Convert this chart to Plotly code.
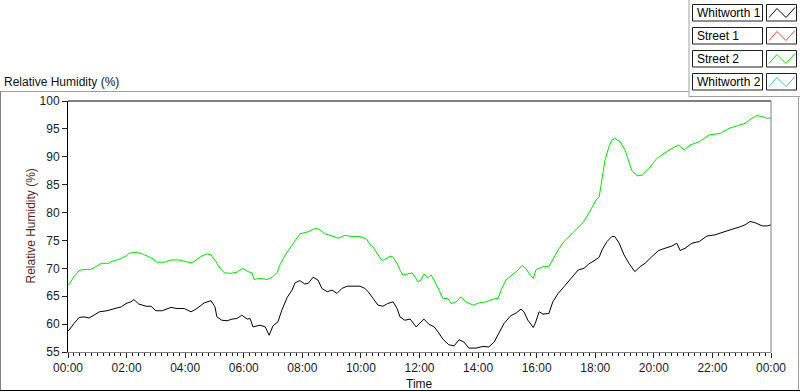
import plotly.graph_objects as go

# ---------------- data ----------------
# minutes after midnight
street2_minutes = [0, 2, 12, 23, 33, 47, 59, 68, 84, 88, 104, 119, 125, 139, 152, 162, 172, 182, 197, 211, 227,
                   242, 252, 258, 272, 285, 293, 303, 309, 320, 334, 346, 352, 358, 369, 377, 381, 393, 408, 418,
                   428, 434, 445, 455, 465, 475, 490, 500, 508, 516, 526, 541, 553, 567, 584, 598, 612, 619, 625,
                   633, 643, 649, 660, 666, 674, 680, 686, 696, 705, 711, 717, 723, 729, 737, 744, 750, 758, 768,
                   778, 785, 795, 805, 815, 830, 842, 856, 871, 881, 887, 897, 912, 922, 930, 938, 944, 953, 959,
                   973, 985, 993, 1004, 1016, 1030, 1045, 1055, 1065, 1073, 1082, 1088, 1094, 1100, 1108, 1114,
                   1120, 1131, 1141, 1149, 1155, 1166, 1176, 1190, 1206, 1221, 1237, 1251, 1262, 1274, 1293, 1313,
                   1336, 1354, 1375, 1387, 1401, 1411, 1422, 1432, 1440]
street2_rh = [67.2, 67.1, 68.5, 69.6, 69.8, 69.8, 70.4, 70.9, 70.9, 71.2, 71.6, 72.2, 72.7, 72.9, 72.6, 72.2, 71.8,
              71.1, 71.1, 71.5, 71.5, 71.2, 71.0, 71.2, 72.1, 72.6, 72.4, 71.2, 70.3, 69.2, 69.1, 69.3, 69.6, 70.0,
              69.4, 69.2, 68.0, 68.2, 68.0, 68.4, 69.2, 70.6, 72.4, 73.6, 74.8, 76.2, 76.5, 76.9, 77.2, 76.9, 76.2,
              75.8, 75.4, 75.9, 75.7, 75.7, 75.2, 74.2, 73.8, 72.7, 71.4, 71.6, 72.2, 72.0, 70.9, 69.7, 68.8, 69.0,
              69.2, 68.4, 67.6, 67.9, 69.0, 68.3, 68.8, 67.9, 66.4, 64.6, 64.6, 63.7, 64.0, 64.9, 64.0, 63.4, 63.8,
              64.0, 64.5, 64.6, 66.1, 67.9, 69.0, 69.7, 70.5, 70.0, 69.1, 68.2, 69.8, 70.3, 70.3, 71.5, 73.3, 74.8,
              76.0, 77.2, 78.2, 79.6, 80.8, 82.3, 82.8, 85.8, 89.4, 91.8, 93.0, 93.3, 92.7, 91.2, 89.1, 87.5, 86.6,
              86.7, 87.9, 89.7, 90.6, 91.5, 92.1, 91.2, 92.1, 92.7, 93.9, 94.2, 95.1, 95.7, 96.0, 96.9, 97.4, 97.2,
              96.9, 97.0]

whitworth1_minutes = [0, 2, 12, 23, 33, 43, 53, 64, 80, 94, 109, 119, 129, 135, 145, 160, 170, 180, 193, 211, 223,
                      238, 252, 264, 279, 293, 301, 305, 315, 326, 336, 346, 356, 367, 373, 379, 393, 404, 412, 420,
                      430, 438, 449, 459, 465, 475, 485, 492, 502, 512, 520, 531, 541, 551, 561, 572, 584, 598, 608,
                      615, 625, 635, 645, 655, 666, 674, 680, 690, 701, 707, 713, 719, 729, 739, 750, 758, 768, 780,
                      791, 801, 811, 821, 836, 850, 862, 873, 883, 893, 907, 918, 928, 934, 942, 953, 957, 965, 973,
                      985, 993, 1004, 1016, 1030, 1045, 1057, 1067, 1082, 1088, 1094, 1104, 1114, 1120, 1129, 1139,
                      1149, 1161, 1172, 1182, 1196, 1210, 1223, 1237, 1247, 1254, 1264, 1278, 1293, 1309, 1325, 1344,
                      1360, 1375, 1387, 1397, 1407, 1422, 1432, 1440]
whitworth1_rh = [58.8, 58.9, 60.1, 61.2, 61.3, 61.1, 61.6, 62.2, 62.4, 62.7, 63.1, 63.7, 64.0, 64.4, 63.6, 63.2,
                 63.2, 62.4, 62.4, 63.0, 62.8, 62.8, 62.2, 62.8, 63.8, 64.2, 63.1, 61.3, 60.7, 60.6, 60.9, 61.0,
                 61.6, 60.9, 61.0, 59.5, 59.8, 59.5, 58.0, 59.7, 60.4, 62.5, 64.8, 66.1, 67.4, 67.8, 67.2, 67.3,
                 68.4, 67.9, 66.4, 65.8, 66.1, 65.5, 66.4, 66.8, 66.8, 66.8, 66.4, 65.8, 64.6, 63.4, 63.2, 63.7,
                 64.0, 62.8, 61.3, 60.7, 60.9, 60.1, 59.5, 60.0, 60.9, 60.0, 59.5, 58.6, 57.3, 56.3, 56.1, 57.2,
                 56.8, 55.7, 55.7, 56.0, 55.9, 56.8, 58.4, 60.1, 61.5, 62.0, 62.7, 62.2, 60.7, 59.4, 60.1, 62.2,
                 61.8, 61.9, 64.0, 65.5, 66.7, 68.2, 69.7, 70.0, 70.8, 71.6, 72.0, 73.3, 74.8, 75.7, 75.7, 74.5,
                 72.4, 70.9, 69.4, 70.3, 70.9, 72.1, 73.2, 73.6, 74.0, 74.5, 73.2, 73.6, 74.5, 74.8, 75.8, 76.0,
                 76.6, 77.0, 77.4, 77.8, 78.4, 78.2, 77.6, 77.6, 77.8]

x_tick_minutes = list(range(0, 1441, 120))
x_tick_labels = ["00:00", "02:00", "04:00", "06:00", "08:00", "10:00", "12:00",
                 "14:00", "16:00", "18:00", "20:00", "22:00", "00:00"]
y_ticks = [55, 60, 65, 70, 75, 80, 85, 90, 95, 100]

legend_names = ["Whitworth 1", "Street 1", "Street 2", "Whitworth 2"]
legend_colors = ["#000000", "#ff3b3b", "#00e600", "#38b6ff"]

# ---------------- layout helpers (pixel -> paper) ----------------
W, H = 800, 392
L, R, T, B = 68, 771, 101, 352
PW, PH = R - L, B - T


def px(x):
    return (x - L) / PW


def py(y):
    return (B - y) / PH


FONT = "Liberation Sans, Arial, sans-serif"

fig = go.Figure()
fig.add_trace(go.Scatter(x=whitworth1_minutes, y=whitworth1_rh, mode="lines",
                         line=dict(color=legend_colors[0], width=1), name=legend_names[0]))
fig.add_trace(go.Scatter(x=street2_minutes, y=street2_rh, mode="lines",
                         line=dict(color=legend_colors[2], width=1), name=legend_names[2]))

shapes = []
annotations = []

# plot border: top black, right gray
shapes.append(dict(type="line", xref="paper", yref="paper", x0=0, x1=1, y0=1, y1=1,
                   line=dict(color="black", width=1)))
shapes.append(dict(type="line", xref="paper", yref="paper", x0=1, x1=1, y0=0, y1=1,
                   line=dict(color="#808080", width=1)))

# outer frame
frame_gray = "#a0a0a0"
shapes.append(dict(type="line", xref="paper", yref="paper", x0=px(0.5), x1=px(689), y0=py(91.5), y1=py(91.5),
                   line=dict(color=frame_gray, width=1)))
shapes.append(dict(type="line", xref="paper", yref="paper", x0=px(689), x1=px(689), y0=py(0), y1=py(96.5),
                   line=dict(color=frame_gray, width=1)))
shapes.append(dict(type="line", xref="paper", yref="paper", x0=px(689), x1=px(800), y0=py(96.5), y1=py(96.5),
                   line=dict(color=frame_gray, width=1)))
shapes.append(dict(type="line", xref="paper", yref="paper", x0=px(0.5), x1=px(0.5), y0=py(91.5), y1=py(391),
                   line=dict(color="#808080", width=1)))
shapes.append(dict(type="line", xref="paper", yref="paper", x0=px(798.5), x1=px(798.5), y0=py(96.5), y1=py(391),
                   line=dict(color=frame_gray, width=1)))
shapes.append(dict(type="line", xref="paper", yref="paper", x0=px(0), x1=px(800), y0=py(390.5), y1=py(390.5),
                   line=dict(color="black", width=1)))

# custom legend
for i, (name, col) in enumerate(zip(legend_names, legend_colors)):
    top = 4.5 + i * 23
    bot = top + 16.5
    shapes.append(dict(type="rect", xref="paper", yref="paper", x0=px(692.5), x1=px(762.5),
                       y0=py(bot), y1=py(top), line=dict(color="#202020", width=1), fillcolor="white"))
    shapes.append(dict(type="rect", xref="paper", yref="paper", x0=px(766.5), x1=px(796.5),
                       y0=py(bot), y1=py(top), line=dict(color="#202020", width=1), fillcolor="white"))
    pts = [(769, top + 13), (777, top + 4), (786, top + 13), (795, top + 3)]
    path = "M " + " L ".join(f"{px(a)},{py(b)}" for a, b in pts)
    shapes.append(dict(type="path", xref="paper", yref="paper", path=path,
                       line=dict(color=col, width=1)))
    annotations.append(dict(text=name, xref="paper", yref="paper", x=px(694.5), y=py(top + 8.5),
                            xanchor="left", yanchor="middle", showarrow=False,
                            font=dict(family=FONT, size=12, color="black")))

# titles
annotations.append(dict(text="Relative Humidity (%)", xref="paper", yref="paper", x=px(2), y=py(82),
                        xanchor="left", yanchor="middle", showarrow=False,
                        font=dict(family=FONT, size=12, color="#111111")))
annotations.append(dict(text="Relative Humidity (%)", xref="paper", yref="paper", x=px(30), y=py(226.5),
                        xanchor="center", yanchor="middle", showarrow=False, textangle=-90,
                        font=dict(family=FONT, size=12, color="#5c1f1f")))
annotations.append(dict(text="Time", xref="paper", yref="paper", x=px(419.5), y=py(384),
                        xanchor="center", yanchor="middle", showarrow=False,
                        font=dict(family=FONT, size=12, color="#111111")))

fig.update_layout(
    width=W, height=H,
    margin=dict(l=L, r=W - R, t=T, b=H - B, pad=0),
    paper_bgcolor="white", plot_bgcolor="white",
    showlegend=False,
    shapes=shapes, annotations=annotations,
    xaxis=dict(range=[0, 1440], tickvals=x_tick_minutes, ticktext=x_tick_labels,
               ticks="outside", ticklen=5, tickcolor="#202020", tickwidth=1,
               minor=dict(dtick=12, tick0=0, ticks="outside", ticklen=3, tickcolor="#202020", tickwidth=1),
               showline=True, linecolor="#808080", linewidth=1, showgrid=False, zeroline=False,
               tickfont=dict(family=FONT, size=12, color="#1a1a2a")),
    yaxis=dict(range=[55, 100], tickvals=y_ticks, ticks="outside", ticklen=5, tickcolor="#202020",
               tickwidth=1, showline=True, linecolor="black", linewidth=1, showgrid=False, zeroline=False,
               tickfont=dict(family=FONT, size=12, color="#1a1a2a")),
)

fig.write_html("out.html", config={"displayModeBar": False, "staticPlot": True},
               post_script="document.body.style.margin='0px';document.body.style.overflow='hidden';")
